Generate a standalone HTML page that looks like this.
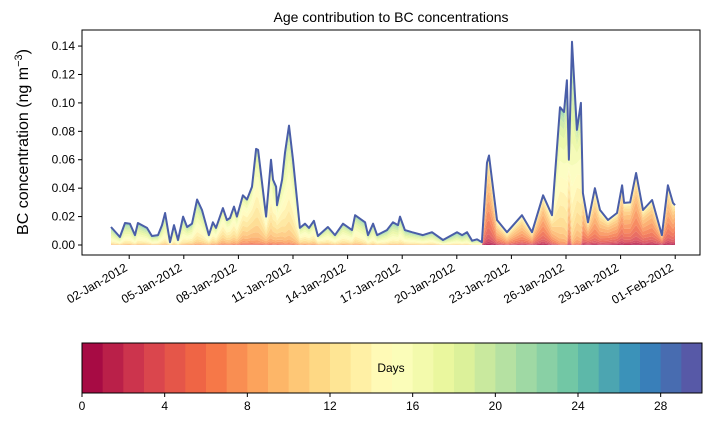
<!DOCTYPE html>
<html><head><meta charset="utf-8"><style>
body{margin:0;background:#fff;}
svg{display:block;font-family:"Liberation Sans","DejaVu Sans",sans-serif;}
</style></head><body>
<svg id="c" width="712" height="425"></svg>
<script>
const days=[0,0.49,0.77,1.04,1.32,1.48,1.98,2.25,2.58,2.80,2.97,3.24,3.46,3.68,3.96,4.18,4.45,4.73,5.0,5.38,5.6,5.77,6.15,6.37,6.54,6.76,6.92,7.25,7.47,7.75,7.97,8.08,8.52,8.79,8.9,9.07,9.12,9.4,9.56,9.78,10.0,10.38,10.66,10.88,11.15,11.37,11.92,12.31,12.75,13.24,13.41,13.96,14.12,14.4,14.62,15.16,15.49,15.77,15.88,16.15,16.54,17.14,17.64,18.24,19.01,19.29,19.56,19.84,20.11,20.38,20.66,20.77,21.21,21.76,22.58,23.13,23.74,24.23,24.67,24.89,25.05,25.16,25.33,25.6,25.82,25.93,26.21,26.59,26.87,27.31,27.8,28.08,28.19,28.52,28.85,29.23,29.73,30.27,30.6,30.88,30.99];
const total=[0.0127,0.0056,0.0155,0.015,0.007,0.0155,0.012,0.0063,0.007,0.014,0.0225,0.002,0.014,0.0035,0.02,0.0127,0.015,0.032,0.0246,0.007,0.016,0.012,0.026,0.0176,0.019,0.027,0.02,0.035,0.032,0.041,0.0676,0.0669,0.02,0.06,0.046,0.041,0.028,0.046,0.065,0.084,0.06,0.012,0.015,0.012,0.017,0.0063,0.0127,0.007,0.015,0.0105,0.021,0.016,0.007,0.015,0.007,0.0105,0.016,0.014,0.02,0.0105,0.009,0.007,0.009,0.0035,0.009,0.007,0.009,0.003,0.004,0.002,0.058,0.063,0.0176,0.009,0.021,0.009,0.035,0.021,0.097,0.0936,0.116,0.06,0.143,0.081,0.1,0.0366,0.016,0.04,0.0246,0.0176,0.0225,0.042,0.0296,0.03,0.0507,0.0246,0.0317,0.007,0.042,0.0296,0.028];
const meanAge=[17,17,17,17,17,17,17,17,17,17,17,17,17,17,17,16,16,16,16,15,15,15,14,14,14,14,14,13,13,13,14,14,13,14,14,14,13,14,15,15,15,15,15,15,15,15,16,16,16,16,16,17,17,17,17,17,17,17,17,17,17,17,17,18,18,18,18,18,18,18,8,8,9,10,9,9,8,10,15,15,16,10,17,14,15,9,8,9,9,8,8,8,8,8,8,8,8,7,8,8,7];
const yTicks=[0,0.02,0.04,0.06,0.08,0.10,0.12,0.14];
const xTickDays=[1,4,7,10,13,16,19,22,25,28,31];
const xTickLabels=["02-Jan-2012","05-Jan-2012","08-Jan-2012","11-Jan-2012","14-Jan-2012","17-Jan-2012","20-Jan-2012","23-Jan-2012","26-Jan-2012","29-Jan-2012","01-Feb-2012"];
const cbTicks=[0,4,8,12,16,20,24,28];
const NB=30;
const svg=document.getElementById('c');const NS='http://www.w3.org/2000/svg';
function mk(t,a,p){const e=document.createElementNS(NS,t);for(const k in a)e.setAttribute(k,a[k]);(p||svg).appendChild(e);return e;}
const X=d=>111+d*18.2, Y=v=>245-v*1421;
const stops=["#9e0142","#d53e4f","#f46d43","#fdae61","#fee08b","#ffffbf","#e6f598","#abdda4","#66c2a5","#3288bd","#5e4fa2"];
function hex(h){return [1,3,5].map(i=>parseInt(h.substr(i,2),16));}
function cmap(t){const s=t*10,i=Math.min(9,Math.floor(s)),f=s-i,a=hex(stops[i]),b=hex(stops[i+1]);return 'rgb('+a.map((v,j)=>Math.round(v+(b[j]-v)*f)).join(',')+')';}
let t=mk('text',{x:391,y:22,'text-anchor':'middle','font-size':14});t.textContent='Age contribution to BC concentrations';

const fr=days.map((d,i)=>{let w=[],s=0;for(let k=0;k<NB;k++){const z=(k+0.5-meanAge[i])/3.6;const v=Math.exp(-z*z/2);w.push(v);s+=v;}return w.map(v=>v/s);});
const g=mk('g',{});
let cum=days.map(()=>0);
for(let k=0;k<NB;k++){const lo=cum.slice();cum=cum.map((c,i)=>c+fr[i][k]*total[i]);
 let d='M'+days.map((dd,i)=>X(dd).toFixed(1)+','+Y(cum[i]).toFixed(1)).join('L');
 for(let i=days.length-1;i>=0;i--)d+='L'+X(days[i]).toFixed(1)+','+Y(lo[i]).toFixed(1);
 const p=mk('path',{d:d+'Z',fill:cmap((k+0.5)/NB),'fill-opacity':0.85,stroke:'none'},g);
 }
const ln=mk('path',{d:'M'+days.map((dd,i)=>X(dd).toFixed(1)+','+Y(total[i]).toFixed(1)).join('L'),fill:'none',stroke:'#4a5ea8','stroke-width':2,'stroke-linejoin':'round'});

const fr2=mk('rect',{x:82,y:30,width:618,height:225,fill:'none',stroke:'#000','stroke-width':1});

yTicks.forEach(v=>{mk('line',{x1:78,x2:82,y1:Y(v),y2:Y(v),stroke:'#000'});const e=mk('text',{x:75,y:Y(v)+4,'text-anchor':'end','font-size':12});e.textContent=v.toFixed(2);
 });
xTickDays.forEach((d,i)=>{const x=X(d);mk('line',{x1:x,x2:x,y1:255,y2:259,stroke:'#000'});const ax=x-1,ay=270;const e=mk('text',{x:ax,y:ay,'text-anchor':'end','font-size':12,transform:'rotate(-30 '+ax+' '+ay+')'});e.textContent=xTickLabels[i];
 });
t=mk('text',{x:28,y:142,'text-anchor':'middle','font-size':16,transform:'rotate(-90 28 142)'});t.innerHTML='BC concentration (ng m<tspan dy="-6" font-size="11">−3</tspan><tspan dy="6">)</tspan>';

const cb=mk('g',{});
const cx=v=>82+v*620/NB;
for(let k=0;k<NB;k++){const r=mk('rect',{x:cx(k),y:343,width:620/NB+0.5,height:50,fill:cmap((k+0.5)/NB)},cb);}
mk('rect',{x:82,y:343,width:620,height:50,fill:'none',stroke:'#000'},cb);
cbTicks.forEach(v=>{mk('line',{x1:cx(v),x2:cx(v),y1:393,y2:397,stroke:'#000'});const e=mk('text',{x:cx(v),y:410,'text-anchor':'middle','font-size':12});e.textContent=v;
 });
t=mk('text',{x:391,y:372,'text-anchor':'middle','font-size':12});t.textContent='Days';

</script>
</body></html>
